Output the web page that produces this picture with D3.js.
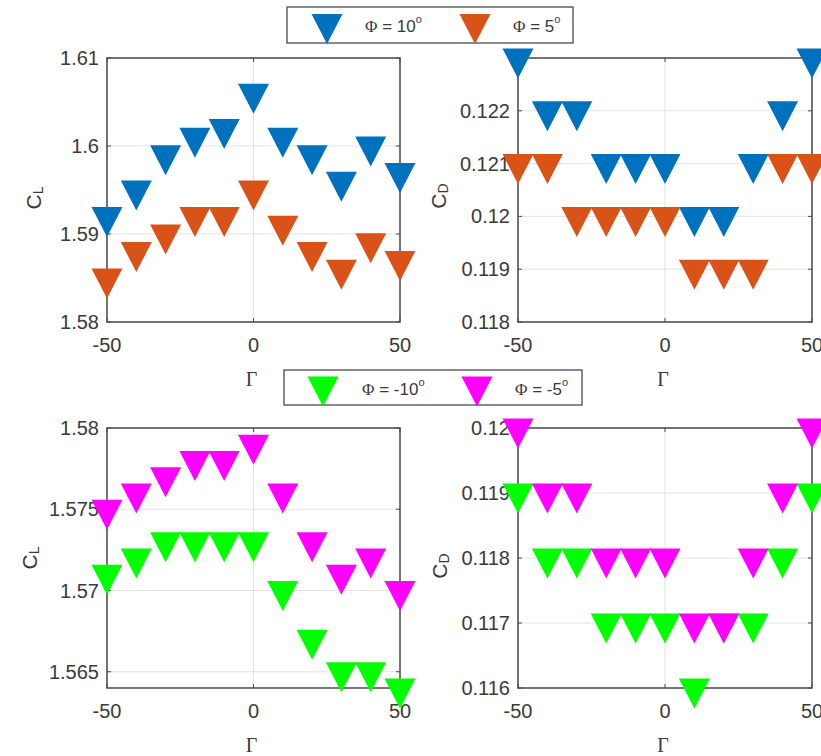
<!DOCTYPE html>
<html>
<head>
<meta charset="utf-8">
<script src="https://cdn.jsdelivr.net/npm/d3@7"></script>
<style>
  html, body { margin: 0; padding: 0; background: #fff; }
  svg { display: block; }
</style>
</head>
<body>
<svg id="chart" width="821" height="756"></svg>
<script>
// ---------- DATA ----------
const gammas = [-50, -40, -30, -20, -10, 0, 10, 20, 30, 40, 50];

const clPhi10  = [1.592, 1.595, 1.599, 1.601, 1.602, 1.606, 1.601, 1.599, 1.596, 1.600, 1.597];
const clPhi5   = [1.585, 1.588, 1.590, 1.592, 1.592, 1.595, 1.591, 1.588, 1.586, 1.589, 1.587];
const cdPhi10  = [0.123, 0.122, 0.122, 0.121, 0.121, 0.121, 0.120, 0.120, 0.121, 0.122, 0.123];
const cdPhi5   = [0.121, 0.121, 0.120, 0.120, 0.120, 0.120, 0.119, 0.119, 0.119, 0.121, 0.121];

const clPhiM10 = [1.571, 1.572, 1.573, 1.573, 1.573, 1.573, 1.570, 1.567, 1.565, 1.565, 1.564];
const clPhiM5  = [1.575, 1.576, 1.577, 1.578, 1.578, 1.579, 1.576, 1.573, 1.571, 1.572, 1.570];
const cdPhiM10 = [0.119, 0.118, 0.118, 0.117, 0.117, 0.117, 0.116, 0.117, 0.117, 0.118, 0.119];
const cdPhiM5  = [0.120, 0.119, 0.119, 0.118, 0.118, 0.118, 0.117, 0.117, 0.118, 0.119, 0.120];

const xTicks = [-50, 0, 50];
const xTickLabels = ["-50", "0", "50"];

const clTopTicks = [1.58, 1.59, 1.60, 1.61];
const clTopTickLabels = ["1.58", "1.59", "1.6", "1.61"];
const cdTopTicks = [0.118, 0.119, 0.120, 0.121, 0.122];
const cdTopTickLabels = ["0.118", "0.119", "0.12", "0.121", "0.122"];
const clBotTicks = [1.565, 1.570, 1.575, 1.580];
const clBotTickLabels = ["1.565", "1.57", "1.575", "1.58"];
const cdBotTicks = [0.116, 0.117, 0.118, 0.119, 0.120];
const cdBotTickLabels = ["0.116", "0.117", "0.118", "0.119", "0.12"];

const seriesTop = ["10", "5"];
const seriesBot = ["-10", "-5"];

// ---------- STYLE ----------
const colors = { "10": "#0072BD", "5": "#D95319", "-10": "#00FF00", "-5": "#FF00FF" };
const axisColor = "#4a4a4a";
const textColor = "#3a3a3a";
const gridColor = "#e3e3e3";
const sans = "'Liberation Sans', Arial, sans-serif";
const serif = "'Liberation Serif', 'Times New Roman', serif";

const svg = d3.select("#chart");

// downward triangle marker centered (centroid) at (cx, cy)
function tri(cx, cy) {
  const hw = 15.5, up = 9.5, dn = 20.5;
  return `M${cx - hw},${cy - up}L${cx + hw},${cy - up}L${cx},${cy + dn}Z`;
}

const panels = [
  { x0: 107, x1: 400, y0: 58, y1: 322, domain: [1.58, 1.61], ticks: clTopTicks, labels: clTopTickLabels,
    ylab: "C", sub: "L", ylabX: 33, ylabDy: 8, series: [clPhi10, clPhi5], keys: seriesTop },
  { x0: 518, x1: 812, y0: 58, y1: 322, domain: [0.118, 0.123], ticks: cdTopTicks, labels: cdTopTickLabels,
    ylab: "C", sub: "D", ylabX: 438, ylabDy: 6, series: [cdPhi10, cdPhi5], keys: seriesTop },
  { x0: 107, x1: 400, y0: 428, y1: 688, domain: [1.564, 1.58], ticks: clBotTicks, labels: clBotTickLabels,
    ylab: "C", sub: "L", ylabX: 29, ylabDy: 0, series: [clPhiM10, clPhiM5], keys: seriesBot },
  { x0: 518, x1: 812, y0: 428, y1: 688, domain: [0.116, 0.12], ticks: cdBotTicks, labels: cdBotTickLabels,
    ylab: "C", sub: "D", ylabX: 439, ylabDy: 8, series: [cdPhiM10, cdPhiM5], keys: seriesBot }
];

const markerLayer = [];

panels.forEach(p => {
  const x = d3.scaleLinear().domain([-50, 50]).range([p.x0, p.x1]);
  const y = d3.scaleLinear().domain(p.domain).range([p.y1, p.y0]);
  const g = svg.append("g");

  // grid
  g.selectAll(".gx").data(xTicks).join("line")
    .attr("x1", d => x(d)).attr("x2", d => x(d)).attr("y1", p.y0).attr("y2", p.y1)
    .attr("stroke", gridColor).attr("stroke-width", 1);
  g.selectAll(".gy").data(p.ticks).join("line")
    .attr("x1", p.x0).attr("x2", p.x1).attr("y1", d => y(d)).attr("y2", d => y(d))
    .attr("stroke", gridColor).attr("stroke-width", 1);

  // box
  g.append("rect").attr("x", p.x0).attr("y", p.y0).attr("width", p.x1 - p.x0).attr("height", p.y1 - p.y0)
    .attr("fill", "none").attr("stroke", axisColor).attr("stroke-width", 1.5);

  // inward ticks on all sides
  const tl = 4;
  xTicks.forEach(t => {
    g.append("line").attr("x1", x(t)).attr("x2", x(t)).attr("y1", p.y1).attr("y2", p.y1 - tl).attr("stroke", axisColor);
    g.append("line").attr("x1", x(t)).attr("x2", x(t)).attr("y1", p.y0).attr("y2", p.y0 + tl).attr("stroke", axisColor);
  });
  p.ticks.forEach(t => {
    g.append("line").attr("x1", p.x0).attr("x2", p.x0 + tl).attr("y1", y(t)).attr("y2", y(t)).attr("stroke", axisColor);
    g.append("line").attr("x1", p.x1).attr("x2", p.x1 - tl).attr("y1", y(t)).attr("y2", y(t)).attr("stroke", axisColor);
  });

  // tick labels
  g.selectAll(".xt").data(xTicks).join("text")
    .attr("x", d => x(d)).attr("y", p.y1 + 23)
    .attr("text-anchor", "middle").attr("dominant-baseline", "central")
    .attr("font-family", sans).attr("font-size", 20).attr("fill", textColor)
    .text((d, i) => xTickLabels[i]);
  g.selectAll(".yt").data(p.ticks).join("text")
    .attr("x", p.x0 - 8).attr("y", d => y(d))
    .attr("text-anchor", "end").attr("dominant-baseline", "central")
    .attr("font-family", sans).attr("font-size", 20).attr("fill", textColor)
    .text((d, i) => p.labels[i]);

  // x label
  g.append("text").attr("x", (p.x0 + p.x1) / 2 - 2).attr("y", p.y1 + 57)
    .attr("text-anchor", "middle").attr("dominant-baseline", "central")
    .attr("font-family", serif).attr("font-size", 20).attr("fill", textColor).text("Γ");

  // y label
  const yl = g.append("text")
    .attr("transform", `translate(${p.ylabX},${(p.y0 + p.y1) / 2 + p.ylabDy}) rotate(-90)`)
    .attr("text-anchor", "middle").attr("dominant-baseline", "central")
    .attr("font-family", sans).attr("font-size", 21).attr("fill", textColor);
  yl.append("tspan").text(p.ylab);
  yl.append("tspan").attr("font-size", 14).attr("dy", 5).text(p.sub);

  markerLayer.push({ p, x, y });
});

// markers on top of everything in the axes
markerLayer.forEach(({ p, x, y }) => {
  const mg = svg.append("g");
  p.series.forEach((vals, si) => {
    mg.append("g").selectAll("path").data(gammas.map((gm, i) => ({ gm, v: vals[i] }))).join("path")
      .attr("d", d => tri(x(d.gm), y(d.v)))
      .attr("fill", colors[p.keys[si]]);
  });
});

// legends
function legend(bx, by, bw, bh, keys, markerXs, textXs) {
  const g = svg.append("g");
  g.append("rect").attr("x", bx).attr("y", by).attr("width", bw).attr("height", bh)
    .attr("fill", "#fff").attr("stroke", axisColor).attr("stroke-width", 1.3);
  keys.forEach((k, i) => {
    g.append("path").attr("d", tri(markerXs[i], by + bh / 2 - 1.5)).attr("fill", colors[k]);
    const t = g.append("text").attr("x", textXs[i]).attr("y", by + bh / 2 + 1)
      .attr("dominant-baseline", "central").attr("font-size", 17).attr("fill", textColor)
      .attr("font-family", sans);
    t.append("tspan").attr("font-family", serif).text("Φ");
    t.append("tspan").text(" = " + k);
    t.append("tspan").attr("font-size", 11).attr("dy", -7).text("o");
  });
}
legend(287, 7, 286, 36, seriesTop, [327, 475], [365, 513]);
legend(284, 370, 298, 35, seriesBot, [323, 477], [362, 515]);
</script>
</body>
</html>
